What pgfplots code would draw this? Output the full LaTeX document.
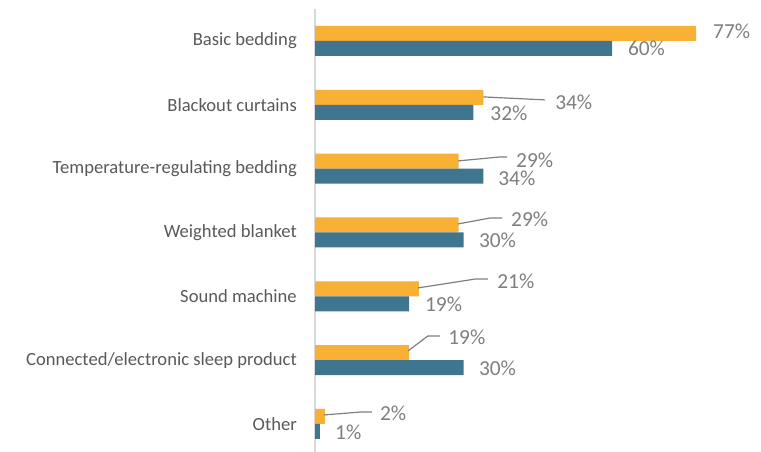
\documentclass[border=0pt]{standalone}
\usepackage{pgfplots}
\pgfplotsset{compat=1.18}
\usepackage{fontspec}
\setmainfont{Carlito}
\definecolor{barorange}{HTML}{F8B135}
\definecolor{barblue}{HTML}{40758F}
\definecolor{lblgray}{HTML}{7F7F7F}
\definecolor{catgray}{HTML}{595959}
\definecolor{axgray}{HTML}{D9D9D9}
\begin{document}
\begin{tikzpicture}
\useasboundingbox (0,0) rectangle (761bp,452bp);
\begin{axis}[
  at={(315bp,0bp)}, anchor=south west,
  scale only axis, width=446bp, height=443bp,
  xmin=0, xmax=90.1, ymin=-0.439, ymax=6.5,
  xbar, bar width=0.235,
  axis x line=none, axis y line*=left,
  y axis line style={draw=axgray, line width=1.5bp},
  ytick={0,1,2,3,4,5,6},
  yticklabels={Other, Connected/electronic sleep product, Sound machine, Weighted blanket, Temperature-regulating bedding, Blackout curtains, Basic bedding},
  major tick length=0pt,
  yticklabel style={font=\fontsize{18.6bp}{22bp}\selectfont, text=catgray, inner sep=0pt, xshift=-18bp},
  clip=false,
]
\addplot[fill=barorange, draw=none, bar shift=0.1175] coordinates {(2,0) (19,1) (21,2) (29,3) (29,4) (34,5) (77,6)};
\addplot[fill=barblue, draw=none, bar shift=-0.1175] coordinates {(1,0) (30,1) (19,2) (30,3) (34,4) (32,5) (60,6)};
% leader lines
\draw[lblgray, line width=1.2bp] (axis cs:34.0,5.123) -- (axis cs:46.5,5.076);
\draw[lblgray, line width=1.2bp] (axis cs:28.9,4.120) -- (axis cs:37.4,4.183) -- (axis cs:38.8,4.183);
\draw[lblgray, line width=1.2bp] (axis cs:28.9,3.133) -- (axis cs:35.4,3.227) -- (axis cs:37.8,3.227);
\draw[lblgray, line width=1.2bp] (axis cs:20.8,2.131) -- (axis cs:32.5,2.272) -- (axis cs:34.9,2.272);
\draw[lblgray, line width=1.2bp] (axis cs:18.8,1.144) -- (axis cs:22.8,1.379) -- (axis cs:25.3,1.379);
\draw[lblgray, line width=1.2bp] (axis cs:1.8,0.141) -- (axis cs:9.3,0.188) -- (axis cs:11.5,0.188);
% data labels
\begin{scope}[every node/.style={anchor=west, inner sep=0pt, text=lblgray, font=\fontsize{21.4bp}{25bp}\selectfont}]
\node at (axis cs:80.4,6.157) {77\%};
\node at (axis cs:63.2,5.891) {60\%};
\node at (axis cs:48.5,5.045) {34\%};
\node at (axis cs:35.4,4.872) {32\%};
\node at (axis cs:40.6,4.136) {29\%};
\node at (axis cs:37.0,3.854) {34\%};
\node at (axis cs:39.6,3.212) {29\%};
\node at (axis cs:33.1,2.883) {30\%};
\node at (axis cs:36.8,2.240) {21\%};
\node at (axis cs:22.2,1.880) {19\%};
\node at (axis cs:26.9,1.363) {19\%};
\node at (axis cs:33.1,0.877) {30\%};
\node at (axis cs:13.1,0.172) {2\%};
\node at (axis cs:4.04,-0.125) {1\%};
\end{scope}
\end{axis}
\end{tikzpicture}
\end{document}
